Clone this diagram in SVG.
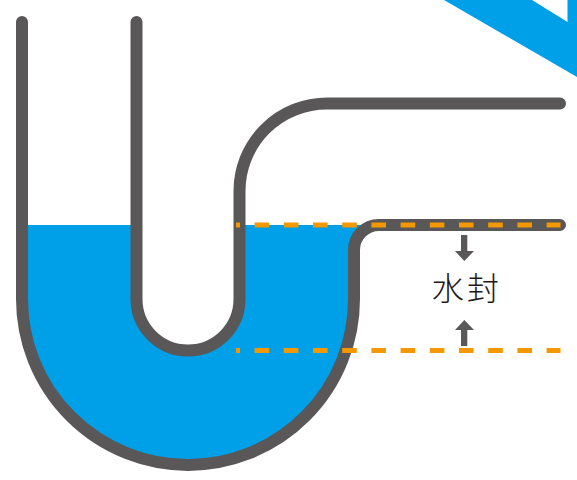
<svg xmlns="http://www.w3.org/2000/svg" width="577" height="480" viewBox="0 0 577 480">
<style>
.pipe{fill:none;stroke:#595757;stroke-width:12;stroke-linecap:round;stroke-linejoin:round}
.dash{fill:none;stroke:#f39800;stroke-width:5;stroke-dasharray:14.6 14.6;stroke-dashoffset:10.6}
.arrow{fill:#595757}
.label{font-family:"Noto Sans CJK JP","Noto Sans CJK SC",sans-serif;font-size:32px;fill:#231815;letter-spacing:3px;font-weight:300}
</style>
<rect width="577" height="480" fill="#fff"/>
<g id="band"><path d="M444 0L577 77V0H567.500V22L532 0Z" fill="#00a0e9"/></g>
<g id="water">
<path d="M22 225H379A25 25 0 0 0 354 250V299A166 166 0 0 1 22 299Z" fill="#00a0e9"/>
<path d="M136.500 225V299A51.500 51.500 0 0 0 239.500 299V225Z" fill="#fff"/>
</g>
<g id="pipes">
<path class="pipe" d="M22 22V299A166 166 0 0 0 354 299V250A25 25 0 0 1 379 225H560"/>
<path class="pipe" d="M136.500 22V299A51.500 51.500 0 0 0 239.500 299V191A87.500 87.500 0 0 1 327 103.500H560"/>
</g>
<g id="connectors">
<path class="dash" d="M236 225H560.500"/>
<path class="dash" d="M236 350.500H560.500"/>
<path class="arrow" d="M461 235H467.300V251H474L464.300 261L455 251H461Z"/>
<path class="arrow" d="M461 346H467.300V330H474L464.300 320L455 330H461Z"/>
</g>
<g id="label"><text class="label" x="432" y="300">水封</text></g>
</svg>
